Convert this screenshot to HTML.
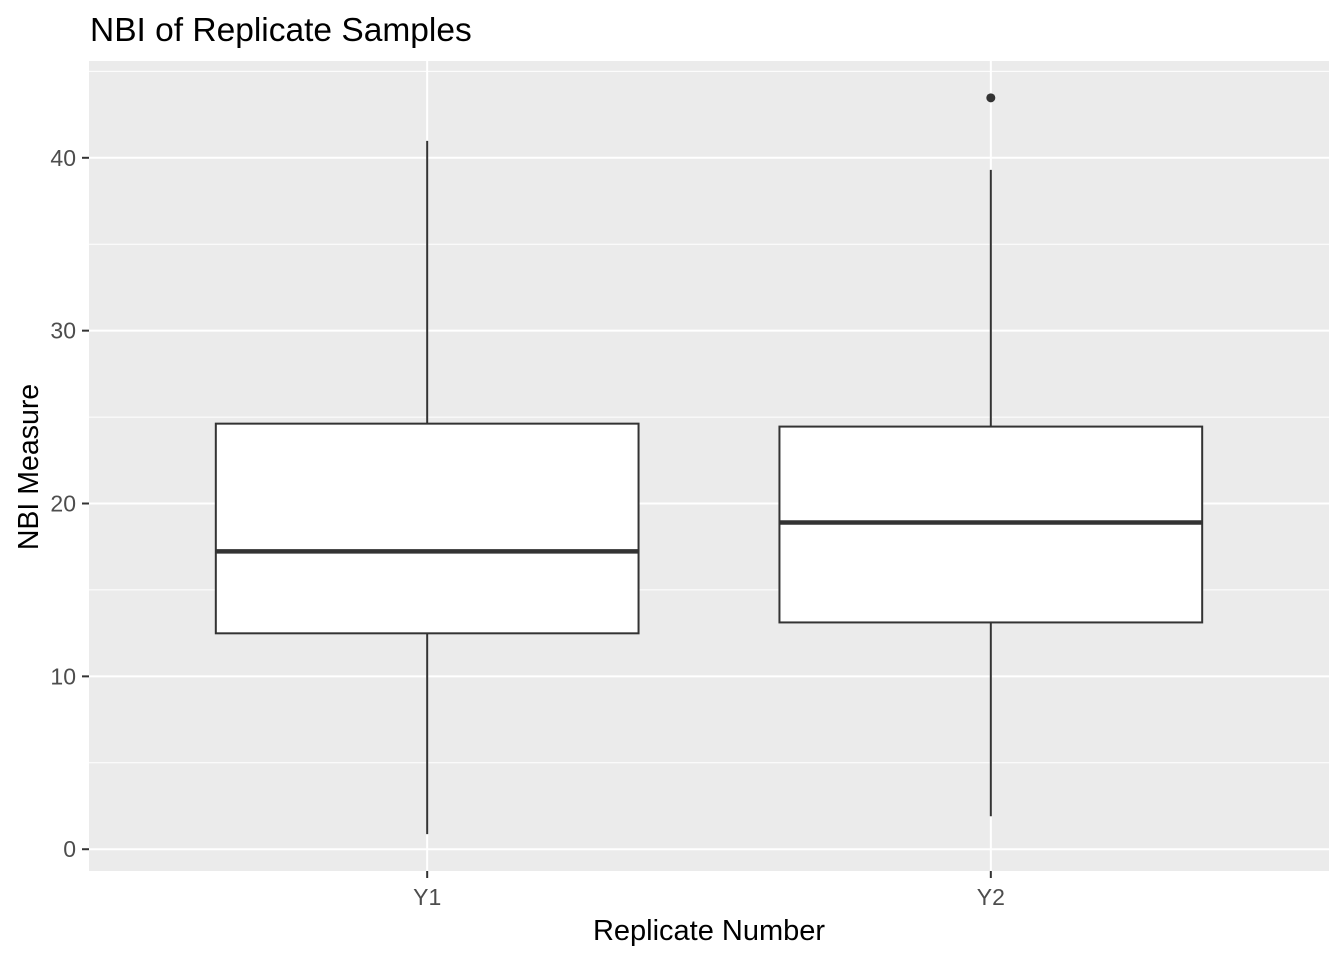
<!DOCTYPE html>
<html><head><meta charset="utf-8"><style>
html,body{margin:0;padding:0;background:#fff;}
svg text{font-family:"Liberation Sans",Arial,sans-serif;}
</style></head><body>
<svg id="chart" width="1344" height="960" xmlns="http://www.w3.org/2000/svg">
<rect width="1344" height="960" fill="#fff"/>
<text x="90" y="41" font-size="33.5" fill="#000">NBI of Replicate Samples</text>
<rect x="89" y="61" width="1240" height="810" fill="#ebebeb"/>
<g id="grid"></g>
<g id="marks"></g>
<g id="axes"></g>
<text x="709" y="940" font-size="29" text-anchor="middle" fill="#000">Replicate Number</text>
<text transform="translate(38,467) rotate(-90)" font-size="28.5" text-anchor="middle" fill="#000">NBI Measure</text>
</svg>
<script>
const categories = ["Y1", "Y2"];
const whiskerLow = [0.87, 1.91];
const q1 = [12.49, 13.12];
const median = [17.23, 18.9];
const q3 = [24.62, 24.45];
const whiskerHigh = [40.98, 39.3];
const outliers = [[], [43.47]];
const yTicks = [0, 10, 20, 30, 40];

const NS = "http://www.w3.org/2000/svg";
const panel = {x: 89, y: 61, w: 1240, h: 810};
const yMin = -1.26, yMax = 45.6;
function yScale(v){ return panel.y + panel.h - (v - yMin) / (yMax - yMin) * panel.h; }
function xScale(i){ return panel.x + (i + 1 - 0.4) / 2.2 * panel.w; }
const bandW = panel.w / 2.2;

function mk(tag, attrs, parent){
  const e = document.createElementNS(NS, tag);
  for (const k in attrs) e.setAttribute(k, attrs[k]);
  parent.appendChild(e);
  return e;
}
const grid = document.getElementById("grid");
const marks = document.getElementById("marks");
const axes = document.getElementById("axes");

for (let i = 0; i < yTicks.length; i++) {
  const v = yTicks[i] + 5;
  const y = yScale(v);
  if (y < panel.y) continue;
  const l = mk("line", {x1: panel.x, x2: panel.x + panel.w, y1: y, y2: y, stroke: "#fff", "stroke-width": 1}, grid);
  
  
}
yTicks.forEach(v => {
  const y = yScale(v);
  const l = mk("line", {x1: panel.x, x2: panel.x + panel.w, y1: y, y2: y, stroke: "#fff", "stroke-width": 2}, grid);
  
  
  const t = mk("line", {x1: panel.x - 7, x2: panel.x, y1: y, y2: y, stroke: "#333", "stroke-width": 2}, axes);
  
  
  const tx = mk("text", {x: panel.x - 13, y: y + 8, "font-size": 23, "text-anchor": "end", fill: "#4d4d4d"}, axes);
  tx.textContent = v;
  
  
});
categories.forEach((c, i) => {
  const x = xScale(i);
  const l = mk("line", {x1: x, x2: x, y1: panel.y, y2: panel.y + panel.h, stroke: "#fff", "stroke-width": 2}, grid);
  
  
  const t = mk("line", {x1: x, x2: x, y1: panel.y + panel.h, y2: panel.y + panel.h + 7, stroke: "#333", "stroke-width": 2}, axes);
  
  
  const tx = mk("text", {x: x, y: 905, "font-size": 23, "text-anchor": "middle", fill: "#4d4d4d"}, axes);
  tx.textContent = c;
  
  
});
categories.forEach((c, i) => {
  const x = xScale(i);
  const half = bandW * 0.75 / 2;
  const wl = mk("line", {x1: x, x2: x, y1: yScale(q3[i]), y2: yScale(whiskerHigh[i]), stroke: "#333", "stroke-width": 2}, marks);
  
  
  const wl2 = mk("line", {x1: x, x2: x, y1: yScale(q1[i]), y2: yScale(whiskerLow[i]), stroke: "#333", "stroke-width": 2}, marks);
  
  
  const b = mk("rect", {x: x - half, y: yScale(q3[i]), width: half * 2, height: yScale(q1[i]) - yScale(q3[i]), fill: "#fff", stroke: "#333", "stroke-width": 2}, marks);
  
  
  const m = mk("line", {x1: x - half, x2: x + half, y1: yScale(median[i]), y2: yScale(median[i]), stroke: "#333", "stroke-width": 4.5}, marks);
  
  
  outliers[i].forEach(v => {
    const p = mk("circle", {cx: x, cy: yScale(v), r: 4.5, fill: "#333"}, marks);
    
    
  });
});
</script>
</body></html>
